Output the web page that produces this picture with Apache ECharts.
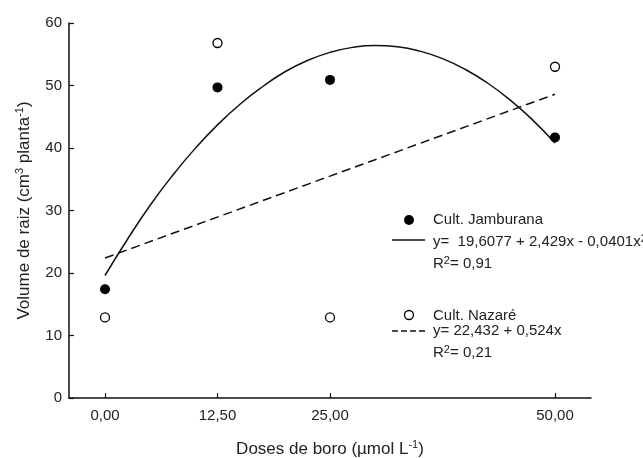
<!DOCTYPE html>
<html>
<head>
<meta charset="utf-8">
<script src="https://cdn.jsdelivr.net/npm/echarts@6/dist/echarts.min.js"></script>
<style>html,body{margin:0;padding:0;background:#fff}#c{width:643px;height:458px}</style>
</head>
<body>
<div id="c"></div>
<script>
// Observed data
const doses = [0, 12.5, 25, 50];
const jamburana = [17.4, 49.7, 50.9, 41.7];
const nazare = [12.9, 56.8, 12.9, 53.0];
// Fitted curves
const fitX = [0, 2.5, 5, 7.5, 10, 12.5, 15, 17.5, 20, 22.5, 25, 27.5, 30, 32.5, 35, 37.5, 40, 42.5, 45, 47.5, 50];
const fitJamburana = [19.6, 25.4, 30.8, 35.6, 39.9, 43.7, 47.0, 49.8, 52.2, 54.0, 55.3, 56.1, 56.4, 56.2, 55.5, 54.3, 52.6, 50.4, 47.7, 44.5, 40.8];
const fitNazareX = [0, 50];
const fitNazare = [22.4, 48.6];
const xTicks = [0, 12.5, 25, 50];
const yTicks = [0, 10, 20, 30, 40, 50, 60];

const FONT = 'Liberation Sans, Arial, sans-serif';
const TXT = '#222';
const zip = (xs, ys) => xs.map((x, i) => [x, ys[i]]);

const chart = echarts.init(document.getElementById('c'), null, {renderer: 'canvas'});
const supRich = {sup: {fontSize: 11, lineHeight: 11, verticalAlign: 'top', fontFamily: FONT, color: TXT}};
const legendSup = {s: {fontSize: 11, lineHeight: 11, verticalAlign: 'top', fontFamily: FONT, color: TXT}};

chart.setOption({
  backgroundColor: '#fff',
  animation: false,
  grid: {left: 69, top: 23, right: 52, bottom: 60, containLabel: false, outerBoundsMode: 'none'},
  xAxis: {
    type: 'value', min: -4, max: 54,
    name: 'Doses de boro (µmol L{sup|-1})',
    nameLocation: 'middle', nameGap: 41,
    nameTextStyle: {fontSize: 17, fontFamily: FONT, color: TXT, lineHeight: 20, rich: supRich},
    axisLine: {show: true, onZero: false, lineStyle: {color: '#111', width: 1.5}},
    axisTick: {show: true, inside: true, length: 5, customValues: xTicks, lineStyle: {color: '#111', width: 1.2}},
    axisLabel: {customValues: xTicks, fontSize: 15, fontFamily: FONT, color: TXT, margin: 10,
      formatter: v => v.toFixed(2).replace('.', ',')},
    splitLine: {show: false}
  },
  yAxis: {
    type: 'value', min: 0, max: 60, interval: 10,
    name: 'Volume de raiz (cm{sup|3} planta{sup|-1})',
    nameLocation: 'middle', nameGap: 34,
    nameTextStyle: {fontSize: 17, fontFamily: FONT, color: TXT, lineHeight: 20, rich: supRich},
    axisLine: {show: true, onZero: false, lineStyle: {color: '#111', width: 1.5}},
    axisTick: {show: true, inside: true, length: 5, lineStyle: {color: '#111', width: 1.2}},
    axisLabel: {fontSize: 15, fontFamily: FONT, color: TXT, margin: 7},
    splitLine: {show: false}
  },
  series: [
    {type: 'line', data: zip(fitX, fitJamburana), smooth: true, showSymbol: false, symbol: 'none',
      lineStyle: {color: '#111', width: 1.5}, z: 2},
    {type: 'line', data: zip(fitNazareX, fitNazare), showSymbol: false, symbol: 'none',
      lineStyle: {color: '#111', width: 1.5, type: [9, 5]}, z: 2},
    {type: 'scatter', data: zip(doses, jamburana), symbol: 'circle', symbolSize: 10,
      itemStyle: {color: '#000', opacity: 1}, z: 3},
    {type: 'scatter', data: zip(doses, nazare), symbol: 'circle', symbolSize: 9,
      itemStyle: {color: '#fff', borderColor: '#000', borderWidth: 1.3, opacity: 1}, z: 3}
  ],
  graphic: [
    {type: 'circle', shape: {cx: 409, cy: 220, r: 5}, style: {fill: '#000'}},
    {type: 'text', x: 433, y: 220, style: {text: 'Cult. Jamburana', font: '15px ' + FONT, fill: TXT, verticalAlign: 'middle'}},
    {type: 'line', shape: {x1: 392, y1: 240, x2: 425, y2: 240}, style: {stroke: '#111', lineWidth: 1.5}},
    {type: 'text', x: 433, y: 242, style: {text: 'y=  19,6077 + 2,429x - 0,0401x{s|2}', font: '15px ' + FONT, fill: TXT, verticalAlign: 'middle', lineHeight: 18, rich: legendSup}},
    {type: 'text', x: 433, y: 264, style: {text: 'R{s|2}= 0,91', font: '15px ' + FONT, fill: TXT, verticalAlign: 'middle', lineHeight: 18, rich: legendSup}},
    {type: 'circle', shape: {cx: 409, cy: 315, r: 4.5}, style: {fill: '#fff', stroke: '#000', lineWidth: 1.3}},
    {type: 'text', x: 433, y: 316, style: {text: 'Cult. Nazaré', font: '15px ' + FONT, fill: TXT, verticalAlign: 'middle'}},
    {type: 'line', shape: {x1: 392, y1: 331, x2: 425, y2: 331}, style: {stroke: '#111', lineWidth: 1.5, lineDash: [6, 3]}},
    {type: 'text', x: 433, y: 331, style: {text: 'y= 22,432 + 0,524x', font: '15px ' + FONT, fill: TXT, verticalAlign: 'middle'}},
    {type: 'text', x: 433, y: 353, style: {text: 'R{s|2}= 0,21', font: '15px ' + FONT, fill: TXT, verticalAlign: 'middle', lineHeight: 18, rich: legendSup}}
  ]
});
</script>
</body>
</html>
